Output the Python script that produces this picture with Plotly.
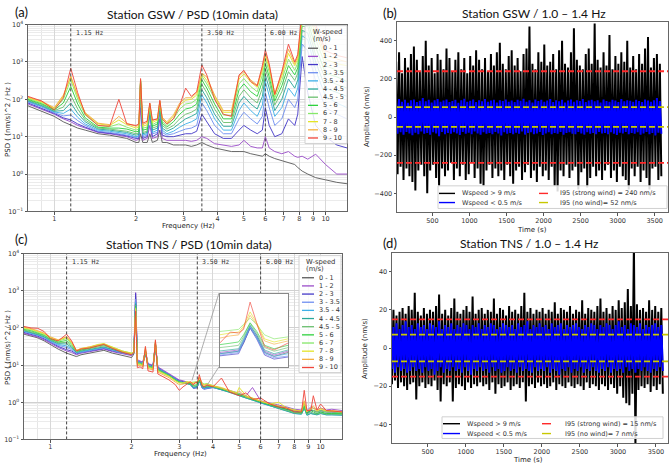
import math
import plotly.graph_objects as go

W, H = 669, 469

# ---------------- DATA ----------------
SPEED_LABELS = ["0 - 1", "1 - 2", "2 - 3", "3 - 3.5", "3.5 - 4", "4 - 4.5",
                "4.5 - 5", "5 - 6", "6 - 7", "7 - 8", "8 - 9", "9 - 10"]
SPEED_COLORS = ["#5a5a5a", "#9b4dca", "#4438c8", "#6f8ff0", "#3fb0e8", "#2aa89a",
                "#6cc070", "#2ed13e", "#86e86a", "#e4e428", "#f5b041", "#f0453a"]

MARK_FREQS = [1.15, 3.5, 6.0]
MARK_LABELS = ["1.15 Hz", "3.50 Hz", "6.00 Hz"]

# Station GSW PSD
FREQ_GSW = [0.8, 0.9, 1.0, 1.08, 1.15, 1.22, 1.3, 1.45, 1.6, 1.73, 1.85, 2.0, 2.05, 2.08, 2.12,
            2.2, 2.25, 2.3, 2.4, 2.45, 2.5, 2.6, 2.75, 2.9, 3.05, 3.2, 3.35, 3.5, 3.65, 3.9,
            4.2, 4.5, 4.8, 5.0, 5.3, 5.6, 5.85, 6.0, 6.2, 6.5, 6.9, 7.3, 7.7, 7.9, 8.2,
            8.6, 9.2, 10.0, 11.0, 12.0]
GSW_0_1 = [67, 48, 35, 25, 20, 17, 15, 12, 11, 10, 9, 7, 7, 12, 7, 7, 12, 7, 8, 15, 7, 7, 6, 6, 6,
           5.5, 6, 7, 6, 5, 4.5, 4, 4, 4, 3.5, 3.2, 3, 3.5, 3, 2.6, 2.3, 2.0, 1.8, 1.5, 1.2,
           1.0, 0.8, 0.7, 0.6, 0.55]
GSW_1_2 = [75, 55, 40, 30, 25, 20, 17, 13, 12, 11, 10, 8, 8.5, 60, 8, 9, 20, 9, 10, 30, 9, 8, 8, 8, 8,
           7.5, 8, 10, 9, 6.5, 6, 5.5, 6, 8, 5.5, 5, 5, 10, 5, 4, 3.5, 4, 3, 2.8, 3,
           2.5, 3.4, 1.8, 1.0, 1.0]
GSW_2_3 = [80, 58, 42, 32, 28, 22, 18, 13.5, 12.5, 11.5, 10.5, 9, 9, 200, 9, 10, 40, 10, 12, 50, 11, 10, 10, 11, 12,
           12, 14, 40, 25, 12, 9, 9, 15, 20, 15, 12, 15, 60, 20, 10, 12, 30, 20, 40, 1400,
           150, 20, 10, 6, 5]
GSW_3_35 = [85, 62, 44, 36, 38, 27, 20, 14, 13, 12, 11, 9.5, 10, 280, 10, 11, 55, 12, 13, 60, 13, 11, 12, 14, 16,
            17, 20, 80, 50, 20, 12, 12, 30, 45, 30, 22, 35, 150, 60, 20, 30, 100, 60, 100, 3000,
            2000, 300, 60, 40, 30]
GSW_35_4 = [88, 65, 46, 42, 55, 33, 22, 15, 14, 13, 12, 10, 10.5, 290, 11, 12, 60, 13, 15, 65, 15, 12, 14, 18, 22,
            25, 30, 130, 80, 30, 15, 15, 50, 80, 50, 35, 70, 300, 120, 35, 60, 200, 120, 200, 5000,
            4000, 600, 120, 80, 60]
GSW_4_45 = [92, 68, 48, 50, 80, 42, 25, 16, 15, 14, 13, 11, 11.5, 300, 12, 13, 65, 15, 17, 70, 17, 14, 17, 23, 30,
            35, 42, 180, 110, 40, 19, 19, 80, 120, 75, 55, 120, 450, 200, 50, 100, 350, 200, 330, 7000,
            6000, 1000, 200, 150, 120]
GSW_45_5 = [96, 72, 50, 62, 130, 55, 28, 17, 16, 15, 14, 12, 12.5, 300, 13, 14, 68, 17, 19, 75, 20, 16, 20, 30, 40,
            45, 55, 250, 150, 55, 24, 24, 120, 180, 110, 80, 200, 650, 300, 70, 160, 550, 320, 500, 9000,
            9000, 1500, 350, 250, 200]
GSW_5_6 = [100, 76, 52, 80, 220, 75, 32, 18, 17, 17, 16, 13.5, 14, 310, 15, 16, 70, 19, 22, 80, 23, 18, 25, 40, 55,
           60, 75, 330, 200, 75, 30, 30, 180, 260, 160, 120, 300, 900, 400, 90, 230, 800, 450, 700, 12000,
           12000, 2500, 500, 400, 300]
GSW_6_7 = [105, 80, 55, 100, 330, 100, 38, 20, 18.5, 22, 18, 15, 16, 320, 17, 18, 72, 21, 25, 85, 26, 20, 30, 55, 75,
           80, 100, 420, 260, 100, 38, 37, 260, 360, 220, 160, 450, 1200, 550, 110, 320, 1200, 600, 950, 15000,
           15000, 4000, 800, 600, 500]
GSW_7_8 = [110, 84, 58, 120, 400, 120, 42, 22, 20, 28, 21, 17, 18, 330, 19, 21, 75, 24, 28, 88, 30, 23, 35, 70, 95,
           100, 130, 480, 320, 120, 45, 45, 350, 480, 290, 210, 600, 1500, 700, 130, 420, 1700, 800, 1200, 18000,
           18000, 6000, 1200, 900, 800]
GSW_8_9 = [115, 88, 60, 130, 420, 125, 44, 23, 21, 35, 23, 19, 20, 340, 21, 24, 78, 27, 30, 90, 33, 25, 38, 80, 110,
           110, 150, 500, 400, 130, 50, 50, 420, 550, 330, 240, 700, 1700, 800, 140, 500, 2200, 900, 1400, 20000,
           20000, 8000, 1500, 1200, 1000]
GSW_9_10 = [120, 90, 52, 110, 680, 150, 40, 20, 19, 100, 22, 20, 22, 360, 23, 26, 80, 28, 30, 95, 30, 22, 30, 70, 200,
            120, 160, 830, 450, 100, 40, 35, 450, 600, 300, 230, 800, 2100, 900, 135, 550, 3000, 1000, 1600, 25000,
            25000, 10000, 2000, 1500, 1300]

# Station TNS PSD
FREQ_TNS = [0.8, 0.85, 0.9, 0.95, 1.0, 1.07, 1.15, 1.2, 1.25, 1.3, 1.4, 1.5, 1.58, 1.7, 1.85, 2.0,
            2.04, 2.07, 2.1, 2.15, 2.2, 2.25, 2.3, 2.4, 2.45, 2.5, 2.6, 2.75, 2.9, 3.0, 3.1, 3.2,
            3.3, 3.38, 3.44, 3.49, 3.52, 3.56, 3.6, 3.65, 3.71, 3.8, 4.0, 4.3, 4.6, 4.9, 5.0, 5.3,
            5.6, 6.0, 6.5, 7.0, 7.5, 8.0, 8.5, 8.7, 8.9, 9.2, 9.4, 9.7, 10.0, 10.5, 11.0, 12.0]
TNS_0_1 = [68, 60, 54, 45, 36, 27, 21, 19, 17, 19, 21, 23, 25, 21, 18, 16, 20, 700, 13, 12, 11, 20, 10, 9, 30,
           8, 7, 5.5, 4.2, 3.6, 3.4, 3.3, 3.0, 2.45, 2.5, 2.55, 2.9, 3.7, 3.2, 2.5, 2.35, 2.5, 2.6, 2.2, 2.0,
           1.7, 1.6, 1.4, 1.25, 1.0, 0.85, 0.75, 0.65, 0.6, 0.58, 0.8, 0.55, 0.6, 0.6, 0.55, 0.6, 0.55, 0.55, 0.52]
TNS_1_2 = [72, 64, 57, 48, 39, 30, 24, 22, 19, 21, 23, 25, 27, 23, 20, 18, 22, 900, 14, 13, 12, 25, 11, 10, 40,
           9, 7.5, 6, 4.6, 4, 3.8, 3.6, 3.3, 2.5, 2.55, 2.6, 3.0, 3.8, 3.3, 2.55, 2.4, 2.55, 2.7, 2.3, 2.1,
           1.8, 1.7, 1.5, 2.5, 1.1, 0.95, 0.85, 0.75, 0.65, 0.62, 0.9, 0.6, 0.75, 0.7, 0.62, 0.7, 0.62, 0.65, 0.6]
TNS_2_3 = [76, 68, 60, 51, 41, 32, 26, 24, 20, 22, 24, 26, 28, 24, 21, 19, 22, 850, 13, 12.5, 11.5, 24, 10.5, 9.5, 38,
           8.5, 7.2, 5.8, 4.4, 3.8, 3.6, 3.5, 3.2, 2.37, 2.4, 2.45, 2.9, 3.67, 3.1, 2.4, 2.25, 2.35, 2.5, 2.2, 2.0,
           1.7, 1.6, 1.4, 1.25, 1.0, 0.85, 0.75, 0.65, 0.58, 0.55, 0.8, 0.52, 0.6, 0.6, 0.55, 0.6, 0.55, 0.55, 0.52]
TNS_3_35 = [80, 72, 63, 54, 43, 34, 30, 26, 21, 22, 25, 27, 29, 25, 21, 19, 22, 600, 13, 12, 11, 22, 10, 9, 35,
            8, 7, 5.5, 4.2, 3.6, 3.4, 3.3, 3.0, 2.4, 2.45, 2.5, 2.95, 3.72, 3.15, 2.45, 2.3, 2.4, 2.5, 2.2, 1.9,
            1.65, 1.55, 1.35, 1.2, 0.95, 0.8, 0.7, 0.6, 0.52, 0.5, 0.7, 0.48, 0.55, 0.5, 0.5, 0.55, 0.5, 0.5, 0.48]
TNS_35_4 = [82, 74, 65, 56, 45, 36, 33, 28, 22, 23, 26, 28, 30, 26, 22, 19, 22, 500, 12, 12, 11, 22, 10, 9, 35,
            8, 7, 5.5, 4.2, 3.6, 3.4, 3.3, 3.0, 2.45, 2.5, 2.55, 3.0, 3.77, 3.2, 2.5, 2.35, 2.45, 2.5, 2.2, 1.9,
            1.65, 1.5, 1.3, 1.15, 0.95, 0.8, 0.7, 0.6, 0.5, 0.48, 0.7, 0.45, 0.5, 0.48, 0.46, 0.5, 0.46, 0.46, 0.45]
TNS_4_45 = [85, 77, 67, 58, 47, 38, 37, 30, 22, 24, 27, 29, 31, 27, 22, 20, 22, 450, 12, 11.5, 10.5, 22, 9.5, 8.8, 36,
            7.8, 6.8, 5.4, 4.1, 3.5, 3.3, 3.2, 3.0, 2.56, 2.6, 2.65, 3.1, 3.86, 3.3, 2.6, 2.45, 2.6, 2.6, 2.2, 1.9,
            1.65, 1.5, 1.3, 1.15, 0.95, 0.8, 0.7, 0.6, 0.5, 0.48, 0.7, 0.45, 0.5, 0.48, 0.46, 0.5, 0.46, 0.46, 0.45]
TNS_45_5 = [88, 80, 70, 61, 49, 40, 41, 32, 23, 25, 28, 31, 33, 28, 23, 20, 22, 400, 12, 11.5, 10.5, 23, 9.5, 8.6, 37,
            7.6, 6.6, 5.3, 4, 3.5, 3.3, 3.3, 3.1, 2.7, 2.75, 2.8, 3.2, 3.96, 3.4, 2.7, 2.55, 2.7, 2.6, 2.3, 2.0,
            1.7, 1.6, 1.35, 1.2, 1.0, 0.85, 0.7, 0.6, 0.52, 0.5, 0.75, 0.48, 0.55, 0.5, 0.48, 0.52, 0.48, 0.48, 0.47]
TNS_5_6 = [92, 84, 73, 64, 51, 42, 46, 35, 24, 26, 29, 33, 35, 29, 23, 20, 22, 380, 11, 11, 10, 24, 9, 8.4, 38,
           7.4, 6.4, 5.2, 4, 3.5, 3.4, 3.4, 3.2, 2.83, 2.9, 2.95, 3.3, 4.0, 3.5, 2.8, 2.65, 2.8, 2.7, 2.3, 2.0,
           1.7, 1.6, 1.4, 1.2, 1.0, 0.85, 0.75, 0.65, 0.55, 0.52, 0.8, 0.5, 0.6, 0.55, 0.5, 0.55, 0.5, 0.5, 0.5]
TNS_6_7 = [96, 88, 76, 67, 54, 44, 52, 38, 24, 27, 30, 35, 37, 30, 24, 21, 22, 350, 11, 11, 10, 26, 9, 8.2, 40,
           7.2, 6.2, 5.1, 3.9, 3.4, 3.4, 3.5, 3.4, 3.49, 3.55, 3.6, 3.9, 4.3, 3.9, 3.3, 3.1, 3.2, 2.8, 2.4, 2.1,
           1.8, 1.7, 1.45, 1.3, 1.05, 0.9, 0.8, 0.7, 0.6, 0.56, 0.9, 0.55, 0.65, 0.6, 0.55, 0.6, 0.55, 0.55, 0.52]
TNS_7_8 = [100, 92, 80, 70, 56, 46, 56, 40, 25, 28, 31, 36, 38, 30, 24, 21, 22, 330, 10, 10.5, 9.5, 28, 8.5, 8, 42,
           7, 6, 5, 3.8, 3.3, 3.3, 3.6, 3.5, 3.31, 3.4, 3.45, 3.8, 4.75, 4.0, 3.1, 2.95, 3.1, 2.8, 2.5, 2.1,
           1.8, 2.5, 1.5, 1.3, 1.1, 0.9, 1.0, 0.7, 0.62, 0.58, 1.0, 0.55, 0.7, 0.7, 0.58, 0.65, 0.58, 0.58, 0.55]
TNS_8_9 = [105, 96, 84, 73, 58, 48, 58, 42, 25, 28, 31, 35, 37, 29, 23, 20, 22, 300, 10, 10, 9, 30, 8, 7.5, 45,
           6.5, 5.6, 4.6, 3.5, 3, 3.1, 3.4, 3.4, 3.14, 3.25, 3.3, 3.7, 4.5, 3.9, 3.0, 2.85, 3.0, 2.7, 2.4, 2.0,
           1.7, 2.0, 1.4, 1.25, 1.05, 0.9, 0.8, 0.7, 0.6, 0.58, 1.1, 0.55, 0.7, 0.8, 0.6, 0.7, 0.6, 0.6, 0.56]
TNS_9_10 = [110, 100, 98, 80, 52, 45, 68, 45, 24, 27, 29, 33, 36, 28, 22, 19, 22, 280, 8.5, 9, 8, 32, 7, 6.5, 48,
            5.8, 5, 4, 3, 2.1, 2.6, 3.0, 3.6, 2.91, 3.45, 3.4, 3.6, 5.55, 4.0, 2.75, 2.6, 2.9, 2.6, 4.5, 1.9,
            1.6, 1.5, 1.8, 1.2, 1.3, 0.9, 0.75, 0.7, 0.55, 0.55, 2.1, 0.6, 0.6, 1.5, 0.62, 0.9, 0.6, 0.58, 0.55]

# Band-passed (1.0-1.4 Hz) records: per 40-s window, peak max and peak min (nm/s)
WINDOW_END_S = list(range(40, 3601, 40))

GSW_STRONG_MAX = [290, 340, 230, 310, 260, 330, 370, 300, 240, 320,
                  400, 270, 310, 230, 330, 300, 250, 360, 310, 240,
                  300, 340, 250, 310, 230, 320, 270, 350, 300, 250,
                  310, 240, 330, 270, 340, 390, 280, 250, 320, 350,
                  270, 310, 240, 330, 360, 475, 280, 250, 340, 290,
                  380, 270, 290, 330, 250, 350, 400, 280, 260, 340,
                  465, 300, 270, 250, 330, 360, 280, 490, 300, 260,
                  340, 270, 430, 250, 320, 280, 340, 290, 400, 260,
                  320, 250, 330, 280, 360, 420, 260, 310, 330, 280]
GSW_STRONG_MIN = [-300, -260, -330, -270, -310, -340, -385, -280, -250, -310,
                  -400, -280, -250, -320, -360, -270, -310, -280, -240, -330,
                  -270, -310, -250, -330, -300, -240, -320, -270, -350, -360,
                  -280, -250, -320, -270, -310, -280, -330, -250, -310, -350,
                  -280, -260, -330, -290, -250, -320, -280, -340, -260, -310,
                  -280, -330, -260, -360, -390, -280, -310, -250, -320, -280,
                  -260, -380, -290, -270, -370, -320, -260, -310, -280, -330,
                  -280, -250, -320, -280, -340, -260, -310, -330, -380, -270,
                  -310, -260, -340, -280, -320, -380, -270, -260, -330, -310]
GSW_CALM_MAX = [85, 95, 80, 90, 75, 88, 92, 78, 85, 100,
                82, 90, 76, 88, 95, 80, 86, 92, 78, 84,
                90, 75, 88, 96, 80, 85, 92, 78, 88, 82,
                95, 80, 86, 90, 76, 88, 84, 92, 80, 86,
                78, 90, 85, 96, 80, 88, 76, 92, 84, 90,
                80, 86, 94, 78, 88, 82, 90, 76, 86, 92,
                80, 88, 84, 95, 78, 86, 90, 82, 88, 76,
                92, 84, 80, 90, 86, 78, 94, 82, 88, 85,
                80, 90, 84, 78, 92, 86, 80, 88, 100, 84]
GSW_CALM_MIN = [-88, -80, -92, -78, -86, -95, -82, -90, -76, -88,
                -84, -92, -80, -86, -100, -78, -90, -84, -88, -80,
                -86, -94, -78, -88, -82, -90, -76, -86, -92, -80,
                -88, -84, -90, -78, -86, -96, -80, -88, -84, -90,
                -82, -88, -76, -92, -84, -80, -90, -86, -78, -94,
                -86, -80, -90, -84, -88, -78, -92, -84, -80, -88,
                -90, -78, -86, -92, -80, -88, -84, -90, -78, -86,
                -84, -90, -80, -88, -94, -82, -86, -78, -90, -84,
                -88, -80, -92, -86, -78, -90, -84, -96, -82, -88]

TNS_STRONG_MAX = [18, 20, 17, 19, 21, 18, 22, 20, 29, 19,
                  17, 21, 18, 20, 19, 22, 28, 18, 20, 17,
                  21, 26, 19, 18, 20, 22, 19, 27, 18, 20,
                  21, 18, 20, 19, 26, 18, 21, 20, 17, 22,
                  19, 20, 18, 22, 29, 19, 21, 18, 20, 19,
                  21, 18, 20, 19, 24, 18, 21, 20, 19, 22,
                  18, 20, 19, 25, 18, 21, 20, 19, 22, 26,
                  19, 21, 18, 22, 20, 25, 21, 24, 31, 22,
                  55, 23, 20, 21, 19, 25, 20, 22, 19, 21]
TNS_STRONG_MIN = [-19, -17, -21, -18, -20, -22, -19, -18, -27, -20,
                  -18, -21, -19, -20, -17, -22, -28, -19, -20, -18,
                  -28, -21, -19, -20, -22, -18, -21, -19, -20, -18,
                  -20, -19, -22, -18, -24, -19, -21, -20, -18, -22,
                  -20, -19, -21, -18, -28, -20, -19, -21, -18, -20,
                  -19, -21, -20, -18, -22, -19, -20, -21, -18, -20,
                  -21, -19, -20, -22, -18, -21, -19, -20, -22, -19,
                  -20, -22, -19, -21, -24, -20, -26, -29, -30, -24,
                  -52, -22, -20, -21, -19, -23, -20, -22, -19, -24]
TNS_CALM_MAX = [12, 11, 13, 10, 12, 14, 11, 12, 10, 13,
                11, 12, 10, 13, 12, 11, 14, 10, 12, 11,
                13, 10, 12, 11, 13, 12, 10, 12, 11, 13,
                10, 12, 11, 13, 12, 10, 11, 13, 12, 11,
                12, 10, 13, 11, 12, 14, 10, 12, 11, 13,
                11, 12, 10, 13, 11, 12, 13, 10, 12, 11,
                12, 13, 11, 10, 12, 11, 13, 12, 10, 12,
                11, 13, 12, 10, 12, 14, 11, 12, 10, 13,
                12, 11, 13, 10, 12, 11, 12, 13, 11, 12]
TNS_CALM_MIN = [-11, -13, -10, -12, -11, -13, -12, -10, -12, -11,
                -13, -10, -12, -11, -14, -12, -10, -13, -11, -12,
                -10, -12, -11, -13, -10, -12, -14, -11, -12, -10,
                -12, -11, -13, -10, -12, -11, -13, -12, -10, -12,
                -11, -13, -10, -12, -11, -12, -13, -10, -12, -11,
                -12, -10, -13, -11, -12, -14, -11, -12, -10, -13,
                -11, -12, -10, -13, -11, -12, -10, -12, -13, -11,
                -12, -10, -13, -11, -12, -11, -13, -10, -12, -11,
                -13, -11, -12, -10, -12, -13, -11, -12, -10, -12]

GSW_I95_STRONG, GSW_I95_CALM = 240, 52
TNS_I95_STRONG, TNS_I95_CALM = 15, 7

GSW_SERIES = [GSW_0_1, GSW_1_2, GSW_2_3, GSW_3_35, GSW_35_4, GSW_4_45,
              GSW_45_5, GSW_5_6, GSW_6_7, GSW_7_8, GSW_8_9, GSW_9_10]
TNS_SERIES = [TNS_0_1, TNS_1_2, TNS_2_3, TNS_3_35, TNS_35_4, TNS_4_45,
              TNS_45_5, TNS_5_6, TNS_6_7, TNS_7_8, TNS_8_9, TNS_9_10]

# ---------------- helpers ----------------
def P(xp):
    return xp / W


def Q(yp):
    return 1 - yp / H


def zigzag(times, vmax, vmin):
    xs, ys = [], []
    for t, a, b in zip(times, vmax, vmin):
        xs += [t - 30, t - 10]
        ys += [a, b]
    return xs, ys


TICKFONT = dict(family="DejaVu Sans", size=6.5, color="#333")
LABELFONT = dict(family="DejaVu Sans", size=7, color="#222")
TITLEFONT = dict(family="Lato", size=12, color="#111")

fig = go.Figure()

# ---- PSD panels ----
for series, freq, xa, ya in [(GSW_SERIES, FREQ_GSW, "x", "y"), (TNS_SERIES, FREQ_TNS, "x3", "y3")]:
    for k, vals in enumerate(series):
        fig.add_trace(go.Scatter(x=freq, y=vals, xaxis=xa, yaxis=ya, mode="lines",
                                 line=dict(color=SPEED_COLORS[k], width=1), opacity=0.9,
                                 showlegend=False, hoverinfo="skip"))
    for f in MARK_FREQS:
        fig.add_trace(go.Scatter(x=[f, f], y=[0.1, 1e4], xaxis=xa, yaxis=ya, mode="lines",
                                 line=dict(color="#444", width=1, dash="3px,2px"),
                                 showlegend=False, hoverinfo="skip"))

# ---- inset ----
fig.add_trace(go.Scatter(x=[3.0, 4.2, 4.2, 3.0, 3.0], y=[1.0, 1.0, 10, 10, 1.0], xaxis="x5", yaxis="y5",
                         fill="toself", fillcolor="white", mode="lines", line=dict(width=0),
                         showlegend=False, hoverinfo="skip"))
for k, vals in enumerate(TNS_SERIES):
    fig.add_trace(go.Scatter(x=FREQ_TNS, y=vals, xaxis="x5", yaxis="y5", mode="lines",
                             line=dict(color=SPEED_COLORS[k], width=0.8), opacity=0.8,
                             showlegend=False, hoverinfo="skip"))

# ---- time series panels ----
for smax, smin, cmax, cmin, strong, calm, xa, ya, xr in [
        (GSW_STRONG_MAX, GSW_STRONG_MIN, GSW_CALM_MAX, GSW_CALM_MIN, GSW_I95_STRONG, GSW_I95_CALM, "x2", "y2", [22, 3680]),
        (TNS_STRONG_MAX, TNS_STRONG_MIN, TNS_CALM_MAX, TNS_CALM_MIN, TNS_I95_STRONG, TNS_I95_CALM, "x4", "y4", [31, 3658])]:
    xs, ys = zigzag(WINDOW_END_S, smax, smin)
    fig.add_trace(go.Scatter(x=xs, y=ys, xaxis=xa, yaxis=ya, mode="lines",
                             line=dict(color="black", width=2), showlegend=False, hoverinfo="skip"))
    xs, ys = zigzag(WINDOW_END_S, cmax, cmin)
    fig.add_trace(go.Scatter(x=xs, y=ys, xaxis=xa, yaxis=ya, mode="lines",
                             line=dict(color="#0000ff", width=2), showlegend=False, hoverinfo="skip"))
    for lvl, col in [(strong, "#ff2a2a"), (-strong, "#ff2a2a"), (calm, "#c8c800"), (-calm, "#c8c800")]:
        fig.add_trace(go.Scatter(x=xr, y=[lvl, lvl], xaxis=xa, yaxis=ya, mode="lines",
                                 line=dict(color=col, width=1.8, dash="6px,3px"),
                                 showlegend=False, hoverinfo="skip"))

# ---------------- axes ----------------
DEC_VALS = [0.1, 1, 10, 100, 1000, 10000]
DEC_TEXT = ["10<sup>\u22121</sup>", "10<sup>0</sup>", "10<sup>1</sup>", "10<sup>2</sup>",
            "10<sup>3</sup>", "10<sup>4</sup>"]
MINOR_Y = [m * d for d in [0.1, 1, 10, 100, 1000] for m in range(2, 10)]
FREQ_TICKS = [1, 2, 3, 4, 5, 6, 7, 8, 9, 10]

frame = dict(showline=True, mirror=True, linecolor="#666", linewidth=1, zeroline=False,
             ticks="outside", ticklen=2.5, tickcolor="#555", tickfont=TICKFONT)


def log_x(dom):
    return dict(domain=dom, type="log", range=[math.log10(0.8), math.log10(12)],
                tickmode="array", tickvals=FREQ_TICKS, ticktext=[str(v) for v in FREQ_TICKS],
                showgrid=True, gridcolor="#d8d8d8", gridwidth=1, ticklabelstandoff=-2,
                minor=dict(tickvals=[0.9], showgrid=True, gridcolor="#e6e6e6", ticks=""), **frame)


def log_y(dom, anchor):
    return dict(domain=dom, type="log", range=[-1, 4], anchor=anchor,
                tickmode="array", tickvals=DEC_VALS, ticktext=DEC_TEXT,
                showgrid=True, gridcolor="#d0d0d0", gridwidth=1,
                minor=dict(tickvals=MINOR_Y, showgrid=True, gridcolor="#ebebeb", ticks=""), **frame)


lin = dict(showgrid=False, **frame)

fig.update_layout(
    width=W, height=H, margin=dict(l=0, r=0, t=0, b=0),
    paper_bgcolor="white", plot_bgcolor="white", showlegend=False,
    xaxis=dict(anchor="y", **log_x([P(28), P(347)])),
    yaxis=log_y([Q(211), Q(21)], "x"),
    xaxis3=dict(anchor="y3", **log_x([P(24), P(342)])),
    yaxis3=log_y([Q(443), Q(254)], "x3"),
    xaxis2=dict(domain=[P(397), P(668)], anchor="y2", range=[22, 3680], ticklabelstandoff=-1,
                tickvals=[500, 1000, 1500, 2000, 2500, 3000, 3500], **lin),
    yaxis2=dict(domain=[Q(212), Q(18)], anchor="x2", range=[-500, 500],
                tickvals=[-400, -200, 0, 200, 400], **lin),
    xaxis4=dict(domain=[P(392), P(668)], anchor="y4", range=[31, 3658], ticklabelstandoff=-1,
                tickvals=[500, 1000, 1500, 2000, 2500, 3000, 3500], **lin),
    yaxis4=dict(domain=[Q(447), Q(253)], anchor="x4", range=[-50, 50],
                tickvals=[-40, -20, 0, 20, 40], **lin),
    xaxis5=dict(domain=[P(220), P(288)], anchor="y5", type="log",
                range=[math.log10(3.38), math.log10(3.8)], showticklabels=False, ticks="",
                showgrid=False, showline=True, mirror=True, linecolor="#888", linewidth=1, zeroline=False),
    yaxis5=dict(domain=[Q(369), Q(295)], anchor="x5", type="log", range=[0.3, 0.8],
                showticklabels=False, ticks="", showgrid=False, showline=True, mirror=True,
                linecolor="#888", linewidth=1, zeroline=False),
)

# ---------------- annotations & legends ----------------
ann = []
shapes = []


def text(x, y, s, font, xanchor="center", yanchor="middle", angle=0):
    ann.append(dict(x=P(x), y=Q(y), xref="paper", yref="paper", text=s, showarrow=False,
                    xanchor=xanchor, yanchor=yanchor, font=font, textangle=angle))


# panel labels and titles
PANEL_FONT = dict(family="Lato", size=13, color="#111")
text(21, 8, "(a)", PANEL_FONT)
text(390, 9, "(b)", PANEL_FONT)
text(21, 239, "(c)", PANEL_FONT)
text(390, 243, "(d)", PANEL_FONT)
text(192, 11, "Station GSW / PSD (10min data)", TITLEFONT)
text(534, 10, "Station GSW / 1.0 \u2013 1.4 Hz", TITLEFONT)
text(189, 245, "Station TNS / PSD (10min data)", TITLEFONT)
text(529, 244, "Station TNS / 1.0 \u2013 1.4 Hz", TITLEFONT)

# axis labels
text(188, 226, "Frequency (Hz)", LABELFONT)
text(8, 118, "PSD ( (nm/s)^2 / Hz )", LABELFONT, angle=-90)
text(180, 458, "Frequency (Hz)", LABELFONT)
text(8, 350, "PSD ( (nm/s)^2 / Hz )", LABELFONT, angle=-90)
text(532, 230, "Time (s)", LABELFONT)
text(367, 115, "Amplitude (nm/s)", LABELFONT, angle=-90)
text(528, 464, "Time (s)", LABELFONT)
text(365, 350, "Amplitude (nm/s)", LABELFONT, angle=-90)

# frequency marker labels
MARK_FONT = dict(family="DejaVu Sans Mono", size=6.5, color="#333")
for xa, ya in [("x", "y"), ("x3", "y3")]:
    for f, lab in zip(MARK_FREQS, MARK_LABELS):
        ann.append(dict(x=math.log10(f), y=1, xref=xa, yref=ya + " domain", text=lab, showarrow=False,
                        xanchor="left", yanchor="top", xshift=3, yshift=-2, font=MARK_FONT))

# PSD legends
LEG_FONT = dict(family="DejaVu Sans", size=6.5, color="#333")
LEG_TITLE_FONT = dict(family="DejaVu Sans", size=6.8, color="#333")
for (bx0, bx1, by0, by1, tx, ty1, ty2, lx0, lx1, ex, ey0) in [
        (305, 347, 22, 142, 311, 28, 36, 308, 318, 321, 45),
        (299, 341, 256, 375, 304, 262.5, 270, 302, 314, 317, 278.5)]:
    shapes.append(dict(type="rect", xref="paper", yref="paper", x0=P(bx0), x1=P(bx1), y0=Q(by1), y1=Q(by0),
                       fillcolor="rgba(255,255,255,0.82)", line=dict(color="#d0d0d0", width=1), layer="above"))
    text(tx, ty1, "W-speed", LEG_TITLE_FONT, xanchor="left")
    text(tx, ty2, "(m/s)", LEG_TITLE_FONT, xanchor="left")
    for k, lab in enumerate(SPEED_LABELS):
        yk = ey0 + k * 8.3
        shapes.append(dict(type="line", xref="paper", yref="paper", x0=P(lx0), x1=P(lx1), y0=Q(yk), y1=Q(yk),
                           line=dict(color=SPEED_COLORS[k], width=1.3), layer="above"))
        text(ex, yk, lab, LEG_FONT, xanchor="left")

# time-series legends
for (bx0, bx1, by0, by1, r1, r2, c1a, c1b, c1t, c2a, c2b, c2t, strong, calm) in [
        (438, 667, 185, 208, 192.7, 202, 439, 455, 460, 539, 555, 558, GSW_I95_STRONG, GSW_I95_CALM),
        (442, 663, 420, 442, 427, 437, 443, 460, 465, 542, 558, 563, TNS_I95_STRONG, TNS_I95_CALM)]:
    shapes.append(dict(type="rect", xref="paper", yref="paper", x0=P(bx0), x1=P(bx1), y0=Q(by1), y1=Q(by0),
                       fillcolor="rgba(255,255,255,0.85)", line=dict(color="#d0d0d0", width=1), layer="above"))
    entries = [(c1a, c1b, c1t, r1, "black", "solid", "Wspeed > 9 m/s"),
               (c1a, c1b, c1t, r2, "#0000ff", "solid", "Wspeed < 0.5 m/s"),
               (c2a, c2b, c2t, r1, "#ff2a2a", "dash", f"I95 (strong wind) = {strong} nm/s"),
               (c2a, c2b, c2t, r2, "#c8c800", "dash", f"I95 (no wind)= {calm} nm/s")]
    for a, b, t, r, col, dash, lab in entries:
        shapes.append(dict(type="line", xref="paper", yref="paper", x0=P(a), x1=P(b), y0=Q(r), y1=Q(r),
                           line=dict(color=col, width=1.4, dash=dash), layer="above"))
        text(t, r, lab, LEG_FONT, xanchor="left")

# inset connectors
for (x0, y0, x1, y1) in [(219, 294, 192, 383), (219, 369, 207, 388)]:
    shapes.append(dict(type="line", xref="paper", yref="paper", x0=P(x0), y0=Q(y0), x1=P(x1), y1=Q(y1),
                       line=dict(color="#999", width=0.8), layer="above"))

fig.update_layout(annotations=ann, shapes=shapes)

fig.write_html("out.html", config={"displayModeBar": False},
               post_script="document.body.style.margin='0';document.body.style.padding='0';"
                           "document.documentElement.style.overflow='hidden';")
